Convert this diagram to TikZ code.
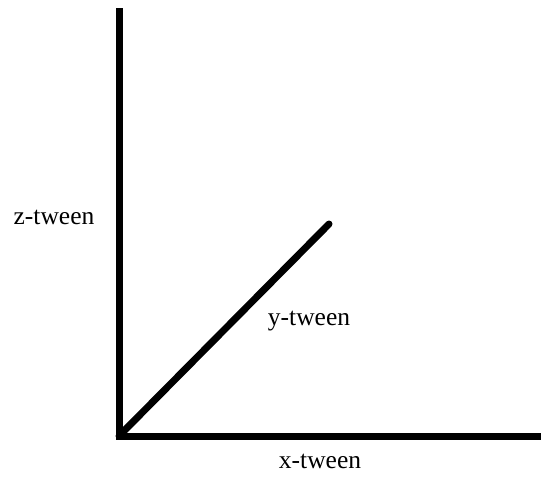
\documentclass[tikz,border=0pt]{standalone}
\usepackage{fontspec}
\setmainfont{Liberation Serif}
\tikzset{
  axis/.style={line width=7pt},
  lbl/.style={anchor=base, inner sep=0pt, font=\fontsize{25.5}{30}\selectfont}
}
\begin{document}
\begin{tikzpicture}[x=1pt, y=-1pt]
    \useasboundingbox (0,0) rectangle (541,479);
    \coordinate (o) at (119,436);
    \coordinate (zt) at (119,8);
    \coordinate (xe) at (541,436);
    \coordinate (ye) at (329,224);
    \node[lbl] (z) at (54,224) {z-tween};
    \node[lbl] (y) at (309,325) {y-tween};
    \node[lbl] (x) at (320,468) {x-tween};
    \draw[axis, line join=miter] (zt) -- (o) -- (xe);
    \draw[axis, line cap=round] (o) -- (ye);
\end{tikzpicture}
\end{document}
